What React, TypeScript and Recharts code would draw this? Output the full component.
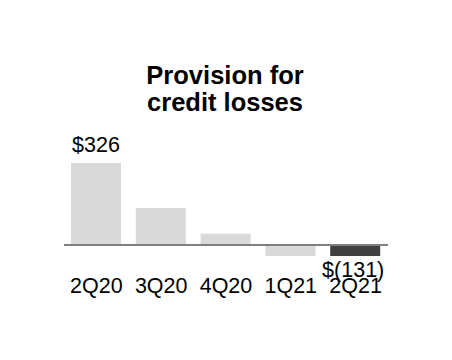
import React from 'react';
import { BarChart, Bar, XAxis, YAxis, Cell, LabelList, ReferenceLine } from 'recharts';

const quarters = ['2Q20', '3Q20', '4Q20', '1Q21', '2Q21'];
const provision = [326, 147, 44, -44, -44];
const valueLabels = ['$326', '', '', '', '$(131)'];
const barColors = ['#d9d9d9', '#d9d9d9', '#d9d9d9', '#d9d9d9', '#404040'];

const chartData = quarters.map((q, i) => ({ q, val: provision[i], label: valueLabels[i] }));

const FONT = '"Liberation Sans", Arial, sans-serif';

const QuarterTick = (props: any) => {
  const { x, payload } = props;
  return (
    <text x={x} y={293} textAnchor="middle" fontFamily={FONT} fontSize={21.5} fill="#000">
      {payload.value}
    </text>
  );
};

const ValueLabel = (props: any) => {
  const { x, y, width, height, index } = props;
  const text = valueLabels[index];
  if (!text) return null;
  const top = Math.min(y, y + height);
  const bottom = Math.max(y, y + height);
  const neg = provision[index] < 0;
  return (
    <text
      x={x + width / 2 - (neg ? 2 : 0)}
      y={neg ? bottom + 21 : top - 11}
      textAnchor="middle"
      fontFamily={FONT}
      fontSize={21.5}
      fill="#000"
    >
      {text}
    </text>
  );
};

export default function App() {
  return (
    <div style={{ position: 'fixed', left: 0, top: 0, width: 452, height: 360, background: '#fff' }}>
      <div
        style={{
          position: 'absolute',
          left: 0,
          top: 62,
          width: 450,
          textAlign: 'center',
          fontFamily: FONT,
          fontWeight: 'bold',
          fontSize: 25.5,
          lineHeight: '27px',
        }}
      >
        <div>Provision for</div>
        <div>credit losses</div>
      </div>
      <div style={{ position: 'absolute', left: 0, top: 0 }}>
        <BarChart
          width={452}
          height={360}
          data={chartData}
          margin={{ top: 159.5, right: 64, bottom: 60, left: 64 }}
        >
          <YAxis hide domain={[-60, 340]} />
          <XAxis
            dataKey="q"
            height={40}
            axisLine={false}
            tickLine={false}
            tick={<QuarterTick />}
            interval={0}
          />
          <Bar dataKey="val" barSize={50} isAnimationActive={false}>
            {chartData.map((_, i) => (
              <Cell key={i} fill={barColors[i]} />
            ))}
            <LabelList dataKey="label" content={<ValueLabel />} />
          </Bar>
          <ReferenceLine y={0} stroke="#808080" strokeWidth={2} />
        </BarChart>
      </div>
    </div>
  );
}
